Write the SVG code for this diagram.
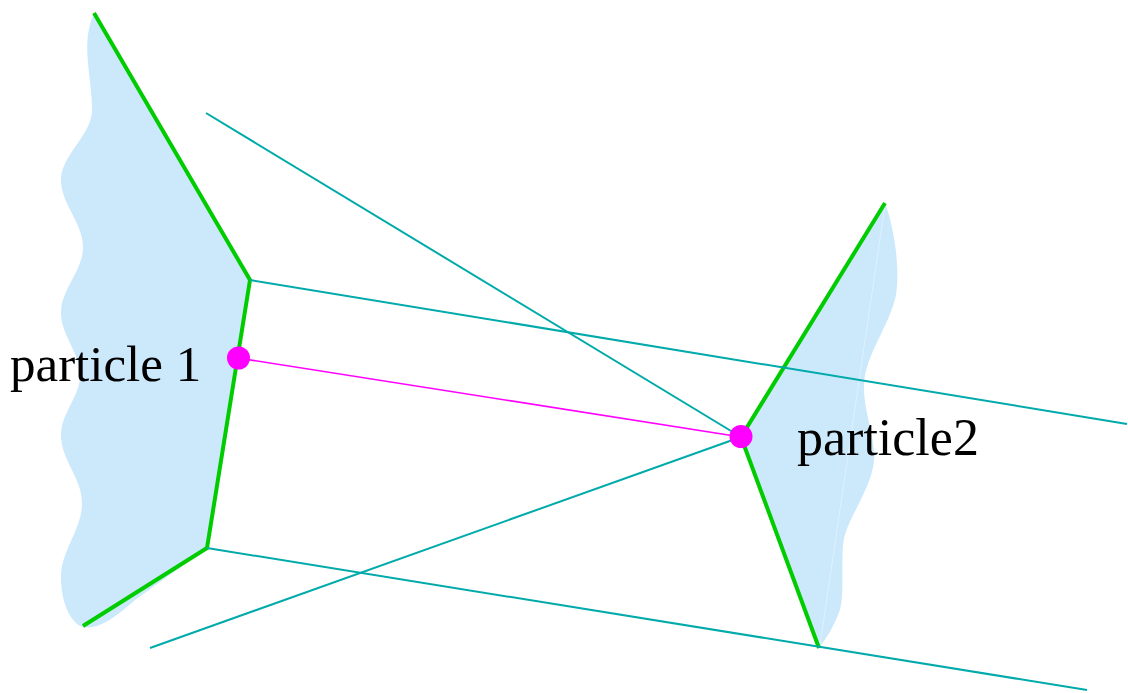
<svg xmlns="http://www.w3.org/2000/svg" width="1128" height="693" viewBox="0 0 1128 693">
  <style>
    .region { fill: #cce9fc; stroke: none; }
    .wall { fill: none; stroke: #00cc00; stroke-width: 4; stroke-linejoin: miter; }
    .ray { stroke: #00aaaa; stroke-width: 2; fill: none; }
    .link { stroke: #ff00ff; stroke-width: 1.6; fill: none; }
    .dot { fill: #ff00ff; }
    .label { font-family: "Liberation Serif", "Times New Roman", serif; fill: #000; }
  </style>

  <rect width="1128" height="693" fill="#ffffff"/>

  <!-- left body: wavy outline closed by its green boundary -->
  <g id="particle1-body">
    <path class="region" d="M94,13 C80,45 92,75 92,110 C92,135 61,155 61,180 C61,204 83,223 83,247 C83,271 61,289 61,313 C61,335 80,353 80,375 C80,397 61,413 61,435 C61,460 82,478 82,503 C82,530 61,550 61,577 C61,605 72,624 83,627 C98,630 115,618 135,600 L207,548 L250,280 Z"/>
    <polyline class="wall" points="94,13 250,280 207,548 83,626"/>
  </g>

  <!-- right body -->
  <g id="particle2-body">
    <path class="region" d="M885,203 C895,230 900,270 896,295 C890,325 865,355 864,385 C863,410 876,440 874,460 C872,490 845,520 843,545 C841,575 845,600 838,615 C832,630 825,640 819,648 L741,437 Z"/>
    <line x1="885" y1="205" x2="820" y2="645" stroke="#ffffff" stroke-opacity="0.35" stroke-width="1"/>
    <polyline class="wall" points="885,203 741,437 819,648"/>
  </g>

  <!-- connecting rays and the particle link -->
  <g id="connectors">
    <line class="ray" x1="206" y1="113" x2="741" y2="437"/>
    <line class="ray" x1="250" y1="280" x2="1127" y2="424"/>
    <line class="ray" x1="207" y1="548" x2="1087" y2="690"/>
    <line class="ray" x1="150" y1="648" x2="741" y2="437"/>
    <line class="link" x1="238" y1="358" x2="741" y2="437"/>
  </g>

  <g id="particle1">
    <circle class="dot" cx="238.5" cy="358" r="11.5"/>
    <text class="label" x="10" y="381" font-size="51">particle 1</text>
  </g>

  <g id="particle2">
    <circle class="dot" cx="741" cy="436.5" r="11.5"/>
    <text class="label" x="797" y="455" font-size="52">particle2</text>
  </g>
</svg>
